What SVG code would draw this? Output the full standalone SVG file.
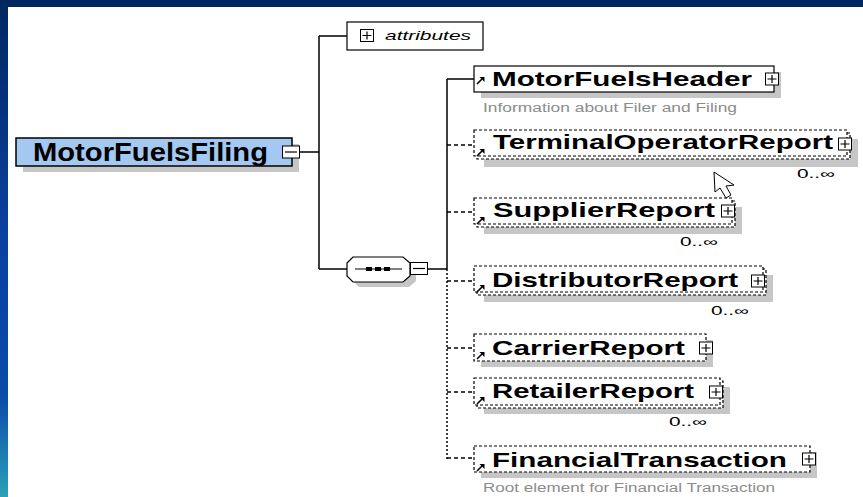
<svg xmlns="http://www.w3.org/2000/svg" xmlns:xlink="http://www.w3.org/1999/xlink" width="863" height="497" viewBox="0 0 863 497">
<style>
.ln{stroke:#000;stroke-width:1.5;fill:none}
.dl{stroke:#000;stroke-width:1.5;fill:none;stroke-dasharray:4 3}
.dot{stroke:#000;stroke-width:1.5;fill:none;stroke-dasharray:2 2}
.sh{fill:#c6c6c6}
.box{fill:#fff;stroke:#000;stroke-width:1.2}
.dbox{fill:#fff;stroke:#000;stroke-width:1.2;stroke-dasharray:3 2}
.nm{font-family:"Liberation Sans",Arial,sans-serif;font-weight:bold;font-size:21px;fill:#000}
.ds{font-family:"Liberation Sans",Arial,sans-serif;font-size:12.5px;fill:#8c8c8c}
.mul{font-family:"Liberation Sans",Arial,sans-serif;font-size:12px;fill:#000}
.pm{fill:#fff;stroke:#000;stroke-width:1}
</style>
<defs>
<linearGradient id="lg" x1="0" y1="0" x2="0" y2="1">
<stop offset="0" stop-color="#00285f"/>
<stop offset="0.45" stop-color="#0a3f9e"/>
<stop offset="0.8" stop-color="#0a4ca8"/>
<stop offset="1" stop-color="#2aa2b8"/>
</linearGradient>
<g id="plus"><rect class="pm" x="-6.5" y="-6" width="13" height="12"/><path d="M-4.5 0H4.5M0 -4V4" stroke="#000" stroke-width="1.2"/></g>
<g id="minus"><rect class="pm" x="-8.5" y="-6" width="17" height="12"/><path d="M-6 0H6" stroke="#000" stroke-width="1.2"/></g>
<g id="ref"><path d="M0 7L5 2" stroke="#000" stroke-width="1.6"/><polygon points="2.5,0 7.5,0 7.5,5" fill="#000"/></g>
</defs>
<rect width="863" height="497" fill="#fff"/>
<rect x="0" y="0" width="863" height="7" fill="#00285f"/>
<rect x="0" y="0" width="8" height="497" fill="url(#lg)"/>

<g id="connectors">
<path class="ln" d="M300 152H319M319 36V269M319 36H347M319 269H347"/>
<path class="ln" d="M428 269H447M447 79V269M447 79H474"/>
<path class="dot" d="M447 269V459"/>
<path class="dl" d="M447 145H474M447 212H474M447 281H474M447 348H474M447 392H474M447 458H474"/>
</g>

<g id="MotorFuelsFiling">
<rect class="sh" x="23" y="144" width="276" height="28"/>
<rect x="16" y="138" width="276" height="28" fill="#a3c8f2" stroke="#000" stroke-width="1.5"/>
<text x="33" y="161" font-family="Liberation Sans, Arial, sans-serif" font-weight="bold" font-size="25" textLength="235" lengthAdjust="spacingAndGlyphs">MotorFuelsFiling</text>
<use xlink:href="#minus" x="291" y="152"/>
</g>

<g id="attributes">
<rect class="box" x="347" y="22" width="136" height="28"/>
<use xlink:href="#plus" x="367" y="35.5"/>
<text x="385" y="40" font-family="Liberation Sans, Arial, sans-serif" font-style="italic" font-size="13.5" textLength="86" lengthAdjust="spacingAndGlyphs">attributes</text>
</g>

<g id="sequence">
<polygon class="sh" points="353,263 359,262 409,262 416,268 416,281 409,287 359,287 353,281"/>
<polygon points="347,263 353,257 403,257 410,263 410,276 403,282 353,282 347,276" fill="#fff" stroke="#000" stroke-width="1.2"/>
<path d="M355 269H402" stroke="#000" stroke-width="1.2"/>
<rect x="366" y="267" width="6" height="4" fill="#000"/>
<rect x="375" y="267" width="6" height="4" fill="#000"/>
<rect x="384" y="267" width="6" height="4" fill="#000"/>
<use xlink:href="#minus" x="419" y="268.5"/>
</g>

<g id="MotorFuelsHeader">
<rect class="sh" x="481" y="72" width="300" height="26"/>
<rect class="box" x="474" y="66" width="300" height="26"/>
<use xlink:href="#ref" x="477" y="77"/>
<text class="nm" x="492" y="86" textLength="260" lengthAdjust="spacingAndGlyphs">MotorFuelsHeader</text>
<use xlink:href="#plus" x="772" y="79"/>
<text class="ds" x="483" y="112" textLength="254" lengthAdjust="spacingAndGlyphs">Information about Filer and Filing</text>
</g>

<g id="TerminalOperatorReport">
<rect class="sh" x="484" y="139" width="374" height="28"/>
<rect class="dbox" x="477" y="133" width="373" height="26"/>
<rect class="dbox" x="474" y="130" width="373" height="26"/>
<use xlink:href="#ref" x="477" y="149"/>
<text class="nm" x="493" y="149" textLength="340" lengthAdjust="spacingAndGlyphs">TerminalOperatorReport</text>
<use xlink:href="#plus" x="845" y="144"/>
<text class="mul" x="797" y="178" textLength="38" lengthAdjust="spacingAndGlyphs">0..∞</text>
</g>

<g id="SupplierReport">
<rect class="sh" x="484" y="207" width="258" height="27"/>
<rect class="dbox" x="477" y="201" width="258" height="26"/>
<rect class="dbox" x="474" y="198" width="258" height="26"/>
<use xlink:href="#ref" x="477" y="217"/>
<text class="nm" x="493" y="217" textLength="222" lengthAdjust="spacingAndGlyphs">SupplierReport</text>
<use xlink:href="#plus" x="728" y="211"/>
<text class="mul" x="680" y="246" textLength="38" lengthAdjust="spacingAndGlyphs">0..∞</text>
</g>

<g id="DistributorReport">
<rect class="sh" x="484" y="275" width="289" height="27"/>
<rect class="dbox" x="477" y="269" width="289" height="26"/>
<rect class="dbox" x="474" y="266" width="289" height="26"/>
<use xlink:href="#ref" x="477" y="285"/>
<text class="nm" x="492" y="287" textLength="246" lengthAdjust="spacingAndGlyphs">DistributorReport</text>
<use xlink:href="#plus" x="758" y="281"/>
<text class="mul" x="711" y="315" textLength="38" lengthAdjust="spacingAndGlyphs">0..∞</text>
</g>

<g id="CarrierReport">
<rect class="sh" x="481" y="340" width="232" height="27"/>
<rect class="dbox" x="474" y="334" width="232" height="27"/>
<use xlink:href="#ref" x="477" y="352"/>
<text class="nm" x="492" y="355" textLength="193" lengthAdjust="spacingAndGlyphs">CarrierReport</text>
<use xlink:href="#plus" x="706" y="348"/>
</g>

<g id="RetailerReport">
<rect class="sh" x="484" y="387" width="246" height="27"/>
<rect class="dbox" x="477" y="381" width="246" height="27"/>
<rect class="dbox" x="474" y="378" width="246" height="27"/>
<use xlink:href="#ref" x="477" y="397"/>
<text class="nm" x="492" y="398" textLength="202" lengthAdjust="spacingAndGlyphs">RetailerReport</text>
<use xlink:href="#plus" x="716" y="392"/>
<text class="mul" x="669" y="426" textLength="38" lengthAdjust="spacingAndGlyphs">0..∞</text>
</g>

<g id="FinancialTransaction">
<rect class="sh" x="481" y="452" width="336" height="26"/>
<rect class="dbox" x="474" y="446" width="336" height="26"/>
<use xlink:href="#ref" x="477" y="464"/>
<text class="nm" x="492" y="467" textLength="295" lengthAdjust="spacingAndGlyphs">FinancialTransaction</text>
<use xlink:href="#plus" x="809" y="459"/>
<text class="ds" x="483" y="492" textLength="292" lengthAdjust="spacingAndGlyphs">Root element for Financial Transaction</text>
</g>

<g id="cursor">
<polygon points="714,172 715,192 720,188 726,198 731,195 726,186 734,185" fill="#fff" stroke="#000" stroke-width="1"/>
</g>
</svg>
